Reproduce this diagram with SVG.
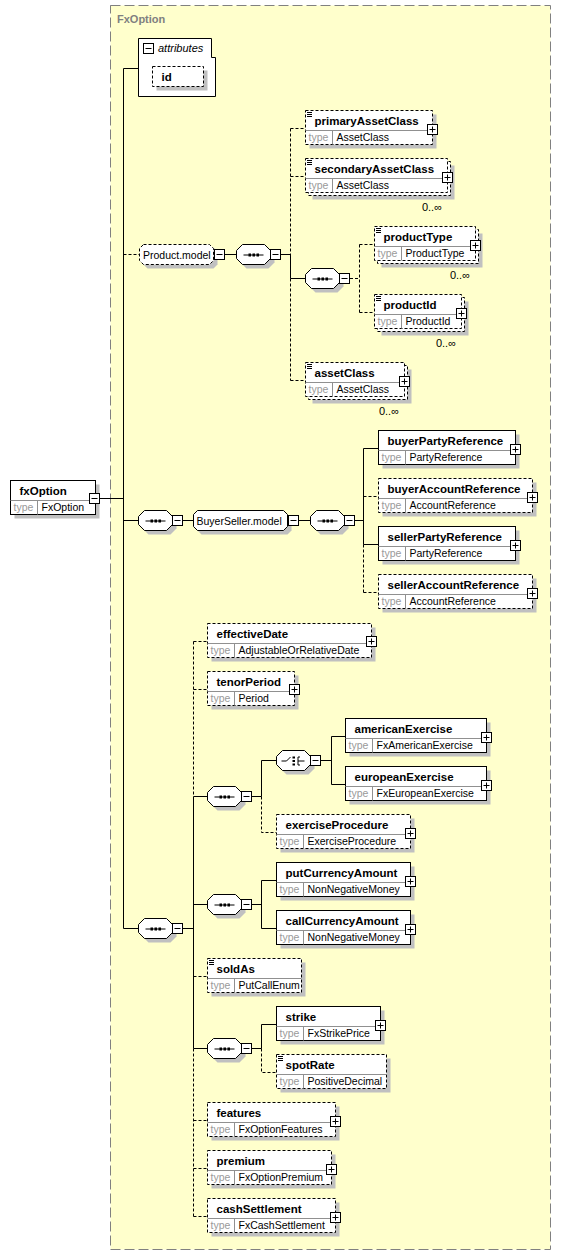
<svg xmlns="http://www.w3.org/2000/svg" xmlns:xlink="http://www.w3.org/1999/xlink" width="561" height="1255" viewBox="0 0 561 1255">
<style>
text{font-family:"Liberation Sans",Arial,sans-serif;}
.nm{font-size:11.5px;font-weight:bold;fill:#000;}
.ty{font-size:10.5px;fill:#9a9a9a;}
.tv{font-size:10.5px;fill:#000;}
.mu{font-size:11px;fill:#000;text-anchor:end;}
.sh{fill:#c0c0c0;stroke:none;}
.bx{fill:#fff;stroke:#000;stroke-width:1;}
.op{stroke-dasharray:3,2;}
.dv{fill:none;stroke:#909090;stroke-width:1;}
.doc{fill:none;stroke:#000;stroke-width:1;}
.ln{fill:none;stroke:#000;stroke-width:1;}
.dl{fill:none;stroke:#000;stroke-width:1;stroke-dasharray:3,2;}
</style>
<defs>
<g id="plus"><rect x="1" y="1" width="10" height="10" fill="#000"/><rect x="0.5" y="0.5" width="10" height="10" fill="#fff" stroke="#000"/><path d="M2.5 5.5h6M5.5 2.5v6" stroke="#000"/></g>
<g id="minus"><rect x="1" y="1" width="10" height="10" fill="#000"/><rect x="0.5" y="0.5" width="10" height="10" fill="#fff" stroke="#000"/><path d="M2.5 5.5h6" stroke="#000"/></g>
<g id="seq"><polygon class="sh" points="10,-6 32,-6 38,0 38,8 32,14 10,14 4,8 4,0"/><polygon class="bx" points="6,-10 28,-10 34,-4 34,4 28,10 6,10 0,4 0,-4"/><path d="M7 0.5H27" stroke="#000"/><rect x="12" y="-1" width="2.5" height="3" fill="#000"/><rect x="16" y="-1" width="2.5" height="3" fill="#000"/><rect x="20" y="-1" width="2.5" height="3" fill="#000"/></g>
<g id="choice"><polygon class="sh" points="10,-6 32,-6 38,0 38,8 32,14 10,14 4,8 4,0"/><polygon class="bx" points="6,-10 28,-10 34,-4 34,4 28,10 6,10 0,4 0,-4"/><path d="M5 0.5H10L14 -3.5M21.5 -3.5V4.5M21.5 -3.5H23.5M21.5 0.5H28M21.5 4.5H23.5" stroke="#000" fill="none"/><rect x="16" y="-4" width="2.5" height="2" fill="#000"/><rect x="16" y="-0.5" width="2.5" height="2" fill="#000"/><rect x="16" y="3" width="2.5" height="2" fill="#000"/></g>
</defs>
<rect x="110.5" y="5.5" width="440" height="1244" fill="#ffffcc" stroke="#808080" stroke-dasharray="10,4"/>
<text x="117" y="23" style="font-size:11px;font-weight:bold;fill:#808080">FxOption</text>

<g id="connectors">
<path class="ln" d="M100 498.5H123.5M123.5 68.5V928.5M123.5 68.5H138.5M123.5 520.5H138.5M123.5 928.5H138.5"/>
<path class="dl" d="M123.5 254.5H139.5"/>
<path class="ln" d="M225 254.5H236.5M281 254.5H290.5V278.5H305.5"/>
<path class="dl" d="M290.5 128.5V380.5M290.5 128.5H305.5M290.5 176.5H305.5M290.5 380.5H305.5"/>
<path class="dl" d="M350 278.5H359.5M359.5 244.5V312.5M359.5 244.5H374.5M359.5 312.5H374.5"/>
<path class="ln" d="M183 520.5H193.5M299 520.5H310.5M355 520.5H363.5M363.5 448.5V544.5M363.5 448.5H378.5M363.5 544.5H378.5"/>
<path class="dl" d="M363.5 544.5V592.5M363.5 496.5H378.5M363.5 592.5H378.5"/>
<path class="ln" d="M183 928.5H193.5M193.5 796.5V1048.5M193.5 796.5H207.5M193.5 904.5H207.5M193.5 1048.5H207.5"/>
<path class="dl" d="M193.5 641.5V796.5M193.5 1048.5V1216.5M193.5 641.5H207.5M193.5 689.5H207.5M193.5 976.5H207.5M193.5 1120.5H207.5M193.5 1168.5H207.5M193.5 1216.5H207.5"/>
<path class="ln" d="M252 796.5H261.5V760.5H276.5M321 760.5H331.5M331.5 736.5V784.5M331.5 736.5H345.5M331.5 784.5H345.5"/>
<path class="dl" d="M261.5 796.5V832.5H276.5"/>
<path class="ln" d="M252 904.5H261.5M261.5 880.5V928.5M261.5 880.5H276.5M261.5 928.5H276.5"/>
<path class="ln" d="M252 1048.5H261.5V1024.5H276.5"/>
<path class="dl" d="M261.5 1048.5V1072.5H276.5"/>
</g>

<g id="fxOption">
<rect class="sh" x="14.5" y="484.5" width="85" height="34"/>
<rect class="bx" x="10.5" y="480.5" width="85" height="34"/>
<path class="dv" d="M10.5 500.5H95.5M37.5 500.5V514.5"/>
<text class="nm" x="19.5" y="495">fxOption</text>
<text class="ty" x="13.5" y="511">type</text><text class="tv" x="41.5" y="511">FxOption</text>
<use xlink:href="#minus" href="#minus" transform="translate(89,493)"/>
</g>

<g id="attributes">
<polygon class="bx" points="138.5,38.5 211.5,38.5 211.5,57.5 215.5,57.5 215.5,96.5 138.5,96.5"/>
<use xlink:href="#minus" href="#minus" transform="translate(143,43)"/>
<text x="158" y="52" style="font-size:11px;font-style:italic;fill:#000">attributes</text>
<g id="attr-id">
<rect class="sh" x="156.5" y="70.5" width="51" height="20"/>
<rect class="bx op" x="152.5" y="66.5" width="51" height="20"/>
<text class="nm" x="161.5" y="81">id</text>
</g>
</g>

<g id="Product.model">
<polygon class="sh" points="147.5,247.5 213.5,247.5 217.5,251.5 217.5,264.5 213.5,268.5 147.5,268.5 143.5,264.5 143.5,251.5"/>
<polygon class="bx op" points="143.5,244.5 209.5,244.5 213.5,248.5 213.5,260.5 209.5,264.5 143.5,264.5 139.5,260.5 139.5,248.5"/>
<text class="tv" x="143" y="258.5">Product.model</text>
<use xlink:href="#minus" href="#minus" transform="translate(214,249)"/>
</g>
<g id="seq-product"><use xlink:href="#seq" href="#seq" transform="translate(236.5,254.5)"/><use xlink:href="#minus" href="#minus" transform="translate(270,249)"/></g>

<g id="primaryAssetClass">
<rect class="sh" x="309.5" y="114.5" width="127" height="34"/>
<rect class="bx op" x="305.5" y="110.5" width="127" height="34"/>
<path class="dv" d="M305.5 130.5H432.5M332.5 130.5V144.5"/>
<path class="doc" d="M307 112.5h5M307 114.5h5M307 116.5h5"/>
<text class="nm" x="314.5" y="125">primaryAssetClass</text>
<text class="ty" x="308.5" y="141">type</text><text class="tv" x="336.5" y="141">AssetClass</text>
<use xlink:href="#plus" href="#plus" transform="translate(427,124)"/>
</g>

<g id="secondaryAssetClass">
<rect class="sh" x="312.5" y="165.5" width="142" height="34"/>
<rect class="bx op" x="308.5" y="161.5" width="142" height="34"/>
<rect class="bx op" x="305.5" y="158.5" width="142" height="34"/>
<path class="dv" d="M305.5 178.5H447.5M332.5 178.5V192.5"/>
<path class="doc" d="M307 160.5h5M307 162.5h5M307 164.5h5"/>
<text class="nm" x="314.5" y="173">secondaryAssetClass</text>
<text class="ty" x="308.5" y="189">type</text><text class="tv" x="336.5" y="189">AssetClass</text>
<use xlink:href="#plus" href="#plus" transform="translate(442,172)"/>
<text class="mu" x="442" y="211">0..∞</text>
</g>

<g id="seq-product-inner"><use xlink:href="#seq" href="#seq" transform="translate(305.5,278.5)"/><use xlink:href="#minus" href="#minus" transform="translate(339,273)"/></g>

<g id="productType">
<rect class="sh" x="381.5" y="233.5" width="101" height="34"/>
<rect class="bx op" x="377.5" y="229.5" width="101" height="34"/>
<rect class="bx op" x="374.5" y="226.5" width="101" height="34"/>
<path class="dv" d="M374.5 246.5H475.5M401.5 246.5V260.5"/>
<path class="doc" d="M376 228.5h5M376 230.5h5M376 232.5h5"/>
<text class="nm" x="383.5" y="241">productType</text>
<text class="ty" x="377.5" y="257">type</text><text class="tv" x="405.5" y="257">ProductType</text>
<use xlink:href="#plus" href="#plus" transform="translate(470,240)"/>
<text class="mu" x="470" y="279">0..∞</text>
</g>

<g id="productId">
<rect class="sh" x="381.5" y="301.5" width="87" height="34"/>
<rect class="bx op" x="377.5" y="297.5" width="87" height="34"/>
<rect class="bx op" x="374.5" y="294.5" width="87" height="34"/>
<path class="dv" d="M374.5 314.5H461.5M401.5 314.5V328.5"/>
<path class="doc" d="M376 296.5h5M376 298.5h5M376 300.5h5"/>
<text class="nm" x="383.5" y="309">productId</text>
<text class="ty" x="377.5" y="325">type</text><text class="tv" x="405.5" y="325">ProductId</text>
<use xlink:href="#plus" href="#plus" transform="translate(456,308)"/>
<text class="mu" x="456" y="347">0..∞</text>
</g>

<g id="assetClass">
<rect class="sh" x="312.5" y="369.5" width="99" height="34"/>
<rect class="bx op" x="308.5" y="365.5" width="99" height="34"/>
<rect class="bx op" x="305.5" y="362.5" width="99" height="34"/>
<path class="dv" d="M305.5 382.5H404.5M332.5 382.5V396.5"/>
<path class="doc" d="M307 364.5h5M307 366.5h5M307 368.5h5"/>
<text class="nm" x="314.5" y="377">assetClass</text>
<text class="ty" x="308.5" y="393">type</text><text class="tv" x="336.5" y="393">AssetClass</text>
<use xlink:href="#plus" href="#plus" transform="translate(399,376)"/>
<text class="mu" x="399" y="415">0..∞</text>
</g>

<g id="seq-buyerseller-outer"><use xlink:href="#seq" href="#seq" transform="translate(138.5,520.5)"/><use xlink:href="#minus" href="#minus" transform="translate(172,515)"/></g>

<g id="BuyerSeller.model">
<polygon class="sh" points="201.5,514.5 287.5,514.5 291.5,518.5 291.5,530.5 287.5,534.5 201.5,534.5 197.5,530.5 197.5,518.5"/>
<polygon class="bx" points="197.5,510.5 283.5,510.5 287.5,514.5 287.5,526.5 283.5,530.5 197.5,530.5 193.5,526.5 193.5,514.5"/>
<text class="tv" x="196.5" y="524.5">BuyerSeller.model</text>
<use xlink:href="#minus" href="#minus" transform="translate(288,515)"/>
</g>
<g id="seq-buyerseller"><use xlink:href="#seq" href="#seq" transform="translate(310.5,520.5)"/><use xlink:href="#minus" href="#minus" transform="translate(344,515)"/></g>

<g id="buyerPartyReference">
<rect class="sh" x="382.5" y="434.5" width="137" height="34"/>
<rect class="bx" x="378.5" y="430.5" width="137" height="34"/>
<path class="dv" d="M378.5 450.5H515.5M405.5 450.5V464.5"/>
<text class="nm" x="387.5" y="445">buyerPartyReference</text>
<text class="ty" x="381.5" y="461">type</text><text class="tv" x="409.5" y="461">PartyReference</text>
<use xlink:href="#plus" href="#plus" transform="translate(510,444)"/>
</g>

<g id="buyerAccountReference">
<rect class="sh" x="382.5" y="482.5" width="154" height="34"/>
<rect class="bx op" x="378.5" y="478.5" width="154" height="34"/>
<path class="dv" d="M378.5 498.5H532.5M405.5 498.5V512.5"/>
<text class="nm" x="387.5" y="493">buyerAccountReference</text>
<text class="ty" x="381.5" y="509">type</text><text class="tv" x="409.5" y="509">AccountReference</text>
<use xlink:href="#plus" href="#plus" transform="translate(527,492)"/>
</g>

<g id="sellerPartyReference">
<rect class="sh" x="382.5" y="530.5" width="137" height="34"/>
<rect class="bx" x="378.5" y="526.5" width="137" height="34"/>
<path class="dv" d="M378.5 546.5H515.5M405.5 546.5V560.5"/>
<text class="nm" x="387.5" y="541">sellerPartyReference</text>
<text class="ty" x="381.5" y="557">type</text><text class="tv" x="409.5" y="557">PartyReference</text>
<use xlink:href="#plus" href="#plus" transform="translate(510,540)"/>
</g>

<g id="sellerAccountReference">
<rect class="sh" x="382.5" y="578.5" width="154" height="34"/>
<rect class="bx op" x="378.5" y="574.5" width="154" height="34"/>
<path class="dv" d="M378.5 594.5H532.5M405.5 594.5V608.5"/>
<text class="nm" x="387.5" y="589">sellerAccountReference</text>
<text class="ty" x="381.5" y="605">type</text><text class="tv" x="409.5" y="605">AccountReference</text>
<use xlink:href="#plus" href="#plus" transform="translate(527,588)"/>
</g>

<g id="seq-main"><use xlink:href="#seq" href="#seq" transform="translate(138.5,928.5)"/><use xlink:href="#minus" href="#minus" transform="translate(172,923)"/></g>

<g id="effectiveDate">
<rect class="sh" x="211.5" y="627.5" width="164" height="34"/>
<rect class="bx op" x="207.5" y="623.5" width="164" height="34"/>
<path class="dv" d="M207.5 643.5H371.5M234.5 643.5V657.5"/>
<text class="nm" x="216.5" y="638">effectiveDate</text>
<text class="ty" x="210.5" y="654">type</text><text class="tv" x="238.5" y="654">AdjustableOrRelativeDate</text>
<use xlink:href="#plus" href="#plus" transform="translate(366,636)"/>
</g>

<g id="tenorPeriod">
<rect class="sh" x="211.5" y="675.5" width="87" height="34"/>
<rect class="bx op" x="207.5" y="671.5" width="87" height="34"/>
<path class="dv" d="M207.5 691.5H294.5M234.5 691.5V705.5"/>
<text class="nm" x="216.5" y="686">tenorPeriod</text>
<text class="ty" x="210.5" y="702">type</text><text class="tv" x="238.5" y="702">Period</text>
<use xlink:href="#plus" href="#plus" transform="translate(289,684)"/>
</g>

<g id="seq-exercise"><use xlink:href="#seq" href="#seq" transform="translate(207.5,796.5)"/><use xlink:href="#minus" href="#minus" transform="translate(241,791)"/></g>
<g id="choice-exercise"><use xlink:href="#choice" href="#choice" transform="translate(276.5,760.5)"/><use xlink:href="#minus" href="#minus" transform="translate(310,755)"/></g>

<g id="americanExercise">
<rect class="sh" x="349.5" y="722.5" width="141" height="34"/>
<rect class="bx" x="345.5" y="718.5" width="141" height="34"/>
<path class="dv" d="M345.5 738.5H486.5M372.5 738.5V752.5"/>
<text class="nm" x="354.5" y="733">americanExercise</text>
<text class="ty" x="348.5" y="749">type</text><text class="tv" x="376.5" y="749">FxAmericanExercise</text>
<use xlink:href="#plus" href="#plus" transform="translate(481,732)"/>
</g>

<g id="europeanExercise">
<rect class="sh" x="349.5" y="770.5" width="141" height="34"/>
<rect class="bx" x="345.5" y="766.5" width="141" height="34"/>
<path class="dv" d="M345.5 786.5H486.5M372.5 786.5V800.5"/>
<text class="nm" x="354.5" y="781">europeanExercise</text>
<text class="ty" x="348.5" y="797">type</text><text class="tv" x="376.5" y="797">FxEuropeanExercise</text>
<use xlink:href="#plus" href="#plus" transform="translate(481,780)"/>
</g>

<g id="exerciseProcedure">
<rect class="sh" x="280.5" y="818.5" width="134" height="34"/>
<rect class="bx op" x="276.5" y="814.5" width="134" height="34"/>
<path class="dv" d="M276.5 834.5H410.5M303.5 834.5V848.5"/>
<text class="nm" x="285.5" y="829">exerciseProcedure</text>
<text class="ty" x="279.5" y="845">type</text><text class="tv" x="307.5" y="845">ExerciseProcedure</text>
<use xlink:href="#plus" href="#plus" transform="translate(405,828)"/>
</g>

<g id="seq-currency"><use xlink:href="#seq" href="#seq" transform="translate(207.5,904.5)"/><use xlink:href="#minus" href="#minus" transform="translate(241,899)"/></g>

<g id="putCurrencyAmount">
<rect class="sh" x="280.5" y="866.5" width="134" height="34"/>
<rect class="bx" x="276.5" y="862.5" width="134" height="34"/>
<path class="dv" d="M276.5 882.5H410.5M303.5 882.5V896.5"/>
<text class="nm" x="285.5" y="877">putCurrencyAmount</text>
<text class="ty" x="279.5" y="893">type</text><text class="tv" x="307.5" y="893">NonNegativeMoney</text>
<use xlink:href="#plus" href="#plus" transform="translate(405,876)"/>
</g>

<g id="callCurrencyAmount">
<rect class="sh" x="280.5" y="914.5" width="134" height="34"/>
<rect class="bx" x="276.5" y="910.5" width="134" height="34"/>
<path class="dv" d="M276.5 930.5H410.5M303.5 930.5V944.5"/>
<text class="nm" x="285.5" y="925">callCurrencyAmount</text>
<text class="ty" x="279.5" y="941">type</text><text class="tv" x="307.5" y="941">NonNegativeMoney</text>
<use xlink:href="#plus" href="#plus" transform="translate(405,924)"/>
</g>

<g id="soldAs">
<rect class="sh" x="211.5" y="962.5" width="94" height="34"/>
<rect class="bx op" x="207.5" y="958.5" width="94" height="34"/>
<path class="dv" d="M207.5 978.5H301.5M234.5 978.5V992.5"/>
<path class="doc" d="M209 960.5h5M209 962.5h5M209 964.5h5"/>
<text class="nm" x="216.5" y="973">soldAs</text>
<text class="ty" x="210.5" y="989">type</text><text class="tv" x="238.5" y="989">PutCallEnum</text>
</g>

<g id="seq-strike"><use xlink:href="#seq" href="#seq" transform="translate(207.5,1048.5)"/><use xlink:href="#minus" href="#minus" transform="translate(241,1043)"/></g>

<g id="strike">
<rect class="sh" x="280.5" y="1010.5" width="104" height="34"/>
<rect class="bx" x="276.5" y="1006.5" width="104" height="34"/>
<path class="dv" d="M276.5 1026.5H380.5M303.5 1026.5V1040.5"/>
<text class="nm" x="285.5" y="1021">strike</text>
<text class="ty" x="279.5" y="1037">type</text><text class="tv" x="307.5" y="1037">FxStrikePrice</text>
<use xlink:href="#plus" href="#plus" transform="translate(375,1020)"/>
</g>

<g id="spotRate">
<rect class="sh" x="280.5" y="1058.5" width="110" height="34"/>
<rect class="bx op" x="276.5" y="1054.5" width="110" height="34"/>
<path class="dv" d="M276.5 1074.5H386.5M303.5 1074.5V1088.5"/>
<path class="doc" d="M278 1056.5h5M278 1058.5h5M278 1060.5h5"/>
<text class="nm" x="285.5" y="1069">spotRate</text>
<text class="ty" x="279.5" y="1085">type</text><text class="tv" x="307.5" y="1085">PositiveDecimal</text>
</g>

<g id="features">
<rect class="sh" x="211.5" y="1106.5" width="128" height="34"/>
<rect class="bx op" x="207.5" y="1102.5" width="128" height="34"/>
<path class="dv" d="M207.5 1122.5H335.5M234.5 1122.5V1136.5"/>
<text class="nm" x="216.5" y="1117">features</text>
<text class="ty" x="210.5" y="1133">type</text><text class="tv" x="238.5" y="1133">FxOptionFeatures</text>
<use xlink:href="#plus" href="#plus" transform="translate(330,1116)"/>
</g>

<g id="premium">
<rect class="sh" x="211.5" y="1154.5" width="124" height="34"/>
<rect class="bx op" x="207.5" y="1150.5" width="124" height="34"/>
<path class="dv" d="M207.5 1170.5H331.5M234.5 1170.5V1184.5"/>
<text class="nm" x="216.5" y="1165">premium</text>
<text class="ty" x="210.5" y="1181">type</text><text class="tv" x="238.5" y="1181">FxOptionPremium</text>
<use xlink:href="#plus" href="#plus" transform="translate(326,1164)"/>
</g>

<g id="cashSettlement">
<rect class="sh" x="211.5" y="1202.5" width="128" height="34"/>
<rect class="bx op" x="207.5" y="1198.5" width="128" height="34"/>
<path class="dv" d="M207.5 1218.5H335.5M234.5 1218.5V1232.5"/>
<text class="nm" x="216.5" y="1213">cashSettlement</text>
<text class="ty" x="210.5" y="1229">type</text><text class="tv" x="238.5" y="1229">FxCashSettlement</text>
<use xlink:href="#plus" href="#plus" transform="translate(330,1212)"/>
</g>
</svg>
